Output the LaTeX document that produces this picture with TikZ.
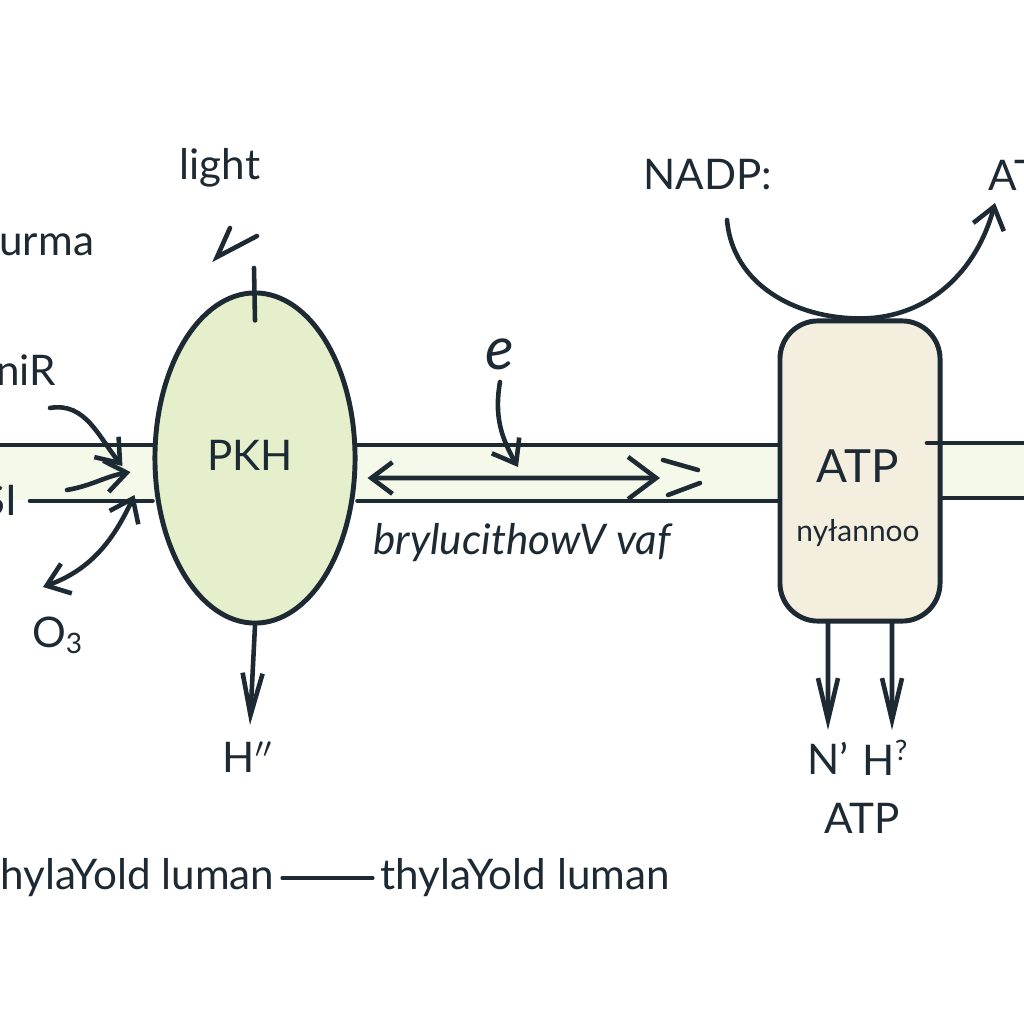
\documentclass[tikz,border=0pt]{standalone}
\usepackage{fontspec}
\setmainfont{Lato}
\usetikzlibrary{positioning,shapes.geometric,arrows.meta}

\definecolor{ink}{HTML}{1E2A33}
\definecolor{psgreen}{HTML}{E6EFCC}
\definecolor{bandgreen}{HTML}{F4F9EA}
\definecolor{synbeige}{HTML}{F3EEDD}

\begin{document}
\begin{tikzpicture}
    [ x = .01cm, y = -.01cm
    , every node/.style =
      { text = ink, font = \fontsize{12}{14}\selectfont }
    , edge/.style =
      { draw = ink, line width = 1.3pt, line cap = round }
    , arr/.style =
      { edge, -{Straight Barb[length=6pt,width=9pt]} }
    , twoway/.style =
      { edge, {Straight Barb[length=6pt,width=9pt]}-{Straight Barb[length=6pt,width=9pt]} }
    , vhead/.style =
      { edge, -{Straight Barb[length=.42cm,width=.2cm]} }
    , complex/.style =
      { draw = ink, line width = 1.4pt }
    , membrane/.style =
      { fill = bandgreen }
    , note/.style =
      { font = \itshape\fontsize{12}{14}\selectfont }
    ]
    \useasboundingbox (0,0) rectangle (1024,1024);
    \fill [white] (0,0) rectangle (1024,1024);
    \fill [membrane] (0,445) rectangle (1024,500);

    % complexes in the membrane
    \node [complex,ellipse,fill=psgreen,minimum width=2cm,minimum height=3.3cm] (psii) at (255,458) {};
    \node (pkh) at (250,455) {PKH};
    \node [complex,rounded corners=.38cm,fill=synbeige,minimum width=1.6cm,minimum height=3cm] (synth) at (860,471) {};
    \node (synatp) at (858,466) {\fontsize{13}{15}\selectfont ATP};
    \node [font=\fontsize{8.5}{10}\selectfont] (synname) [below=.12cm of synatp] {nyłannoo};

    % membrane edges
    \draw [edge] (0,445) -- (psii.west |- 0,445);
    \draw [edge] (30,501) -- (psii.west |- 0,501);
    \draw [edge] (psii.east |- 0,445) -- (synth.west |- 0,445);
    \draw [edge] (psii.east |- 0,501) -- (synth.west |- 0,501);
    \draw [edge] (927,443) -- (1024,443);
    \draw [edge] (synth.east |- 0,498) -- (1024,498);

    % labels
    \node (light) at (220,168) {light};
    \node (nadp) at (708,175) {NADP:};
    \node [anchor=west] (atptop) at (976,175) {ATP};
    \node [anchor=west] (stroma) at (-13,245) {urma};
    \node [anchor=west] (nir) at (-16,370) {niR};
    \node [anchor=east] (lefti) at (30,500) {SI};
    \node (ozone) at (58,635) {O\textsubscript{3}};
    \node [font=\itshape\fontsize{17}{19}\selectfont] (elec) at (500,354) {e};
    \node [note] (flow) at (522,543) {brylucithowV vaf};
    \node (hplus) at (248,757) {H$''$};
    \node (nprime) at (828,758) {N’};
    \node (hq) at (886,758) {H\textsuperscript{?}};
    \node (atpout) at (862,818) {ATP};
    \node [anchor=east,inner sep=2pt] (lumenl) at (282,878) {thylaYold luman};
    \node [anchor=west,inner sep=2pt] (lumenr) at (373,878) {thylaYold luman};

    \coordinate (lightin) at (254,268);
    \coordinate (nadpout) at (727,220);
    \coordinate (atpin) at (995,203);
    \coordinate (e-in) at (518,467);
    \coordinate (flow-end) at (660,478);
    \coordinate (nirout) at (50,408);
    \coordinate (iout) at (67,490);
    \coordinate (o3out) at (43,587);

    % light onto PSII
    \draw [edge] (230,228) -- (217,257) -- (257,236);
    \draw [edge] (lightin) -- ([yshift=-.3cm]psii.north);
    \draw [vhead] (psii.south) -- (250,725);

    % arrows at the stroma side
    \draw [arr] (nirout) to [out=10,in=130] ([xshift=-.3cm,yshift=-.08cm]psii.west);
    \draw [arr] (iout) to [out=10,in=190] ([xshift=-.22cm,yshift=-.14cm]psii.west);
    \draw [twoway] (o3out) to [out=20,in=-115] ([xshift=-.18cm,yshift=-.37cm]psii.west);

    % electron transport
    \draw [arr] (elec.south) to [out=-100,in=120] (e-in);
    \draw [edge,{Straight Barb[length=6pt,width=9pt]}-{Straight Barb[length=8pt,width=12pt]}] ([xshift=.1cm,yshift=-.2cm]psii.east) -- (flow-end);
    \draw [edge] (663,460) -- (698,470);
    \draw [edge] (668,495) -- (700,483);

    % ATP synthase
    \draw [arr] (nadpout) to [out=-85,in=180] (synth.north) to [out=0,in=-105] (atpin);
    \draw [vhead] ([xshift=-.32cm]synth.south) -- (828,730);
    \draw [vhead] ([xshift=.32cm]synth.south) -- (892,730);

    % lumen
    \draw [edge,line width=.9pt] (lumenl) -- (lumenr);
\end{tikzpicture}
\end{document}
